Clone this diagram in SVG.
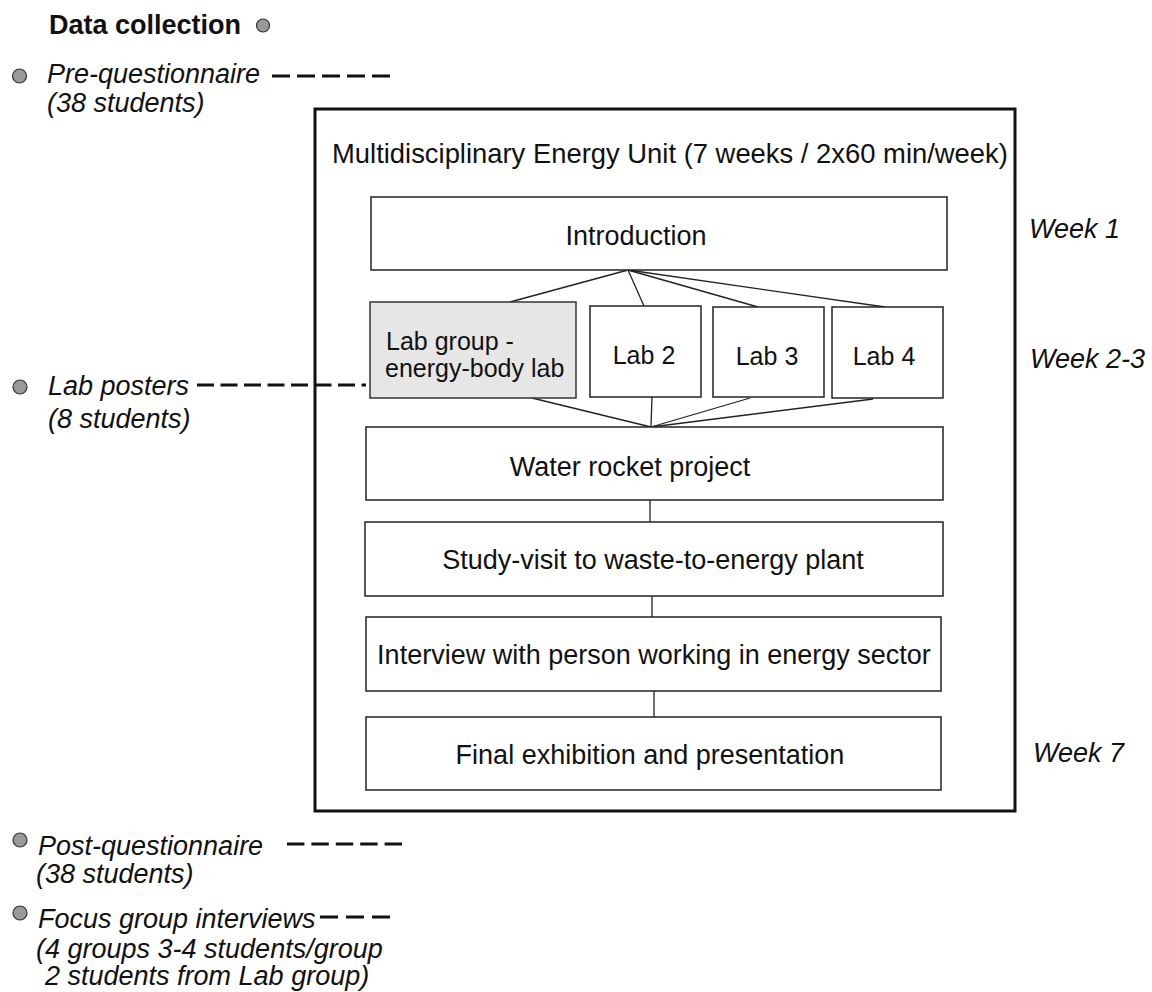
<svg xmlns="http://www.w3.org/2000/svg" width="1152" height="992" viewBox="0 0 1152 992">
<style>
text{font-family:"Liberation Sans",Arial,sans-serif;fill:#111;}
.box{fill:#fff;stroke:#222;stroke-width:1.5;}
.lab1{fill:#e6e6e6;stroke:#333;stroke-width:1.5;}
.frame{fill:none;stroke:#111;stroke-width:3;}
.t{font-size:27px;text-anchor:middle;}
.tl{font-size:25px;text-anchor:middle;}
.it{font-size:27px;font-style:italic;}
.conn{stroke:#222;stroke-width:1.3;fill:none;}
.dash{stroke:#111;stroke-width:3;fill:none;}
.dot{fill:#999;stroke:#333;stroke-width:1.2;}
</style>
<rect width="1152" height="992" fill="#fff"/>

<g id="legend">
<text x="49" y="34" style="font-size:27px;font-weight:bold">Data collection</text>
<circle class="dot" cx="263" cy="25.5" r="6.5"/>
</g>

<g id="pre-questionnaire">
<circle class="dot" cx="19.5" cy="76" r="7"/>
<text class="it" x="47" y="83">Pre-questionnaire</text>
<text class="it" x="47" y="112">(38 students)</text>
<line class="dash" x1="272" y1="76" x2="390" y2="76" stroke-dasharray="18 7"/>
</g>

<g id="lab-posters">
<circle class="dot" cx="20" cy="387" r="7"/>
<text class="it" x="48" y="395">Lab posters</text>
<text class="it" x="48" y="428">(8 students)</text>
</g>

<g id="post-questionnaire">
<circle class="dot" cx="20" cy="840" r="7"/>
<text class="it" x="38" y="855">Post-questionnaire</text>
<text class="it" x="36" y="883">(38 students)</text>
<line class="dash" x1="287" y1="844" x2="402" y2="844" stroke-dasharray="17.4 7"/>
</g>

<g id="focus-groups">
<circle class="dot" cx="20" cy="913" r="7"/>
<text class="it" x="38" y="928">Focus group interviews</text>
<text class="it" x="36" y="958">(4 groups 3-4 students/group</text>
<text class="it" x="45" y="985">2 students from Lab group)</text>
<line class="dash" x1="320" y1="917" x2="390" y2="917" stroke-dasharray="18 8"/>
</g>

<g id="unit-frame">
<rect class="frame" x="315" y="109" width="700" height="702"/>
<text x="332" y="163" style="font-size:27.4px">Multidisciplinary Energy Unit (7 weeks / 2x60 min/week)</text>
</g>

<g id="connectors">
<line class="conn" x1="628" y1="270" x2="510" y2="302"/>
<line class="conn" x1="628" y1="270" x2="644" y2="306"/>
<line class="conn" x1="628" y1="270" x2="758" y2="307"/>
<line class="conn" x1="628" y1="270" x2="885" y2="307"/>
<line class="conn" x1="532" y1="398" x2="651" y2="427"/>
<line class="conn" x1="652" y1="397" x2="651" y2="427"/>
<line class="conn" x1="750" y1="398" x2="651" y2="427"/>
<line class="conn" x1="873" y1="399" x2="651" y2="427"/>
<line class="conn" x1="650" y1="500" x2="650" y2="522"/>
<line class="conn" x1="652" y1="596" x2="652" y2="617"/>
<line class="conn" x1="654" y1="691" x2="654" y2="717"/>
<line class="dash" x1="197" y1="385" x2="366" y2="385" stroke-dasharray="17 6.5"/>
<line class="dash" x1="381" y1="385" x2="385" y2="385"/>
</g>

<g id="introduction">
<rect class="box" x="371" y="197" width="576" height="73"/>
<text class="t" x="636" y="245">Introduction</text>
</g>

<g id="lab-group">
<rect class="lab1" x="370" y="302" width="206" height="96"/>
<text x="386" y="350" style="font-size:25px">Lab group -</text>
<text x="385" y="377" style="font-size:25px">energy-body lab</text>
</g>

<g id="lab2">
<rect class="box" x="590" y="306" width="111" height="91"/>
<text class="tl" x="644" y="364">Lab 2</text>
</g>

<g id="lab3">
<rect class="box" x="713" y="307" width="111" height="90"/>
<text class="tl" x="767" y="365">Lab 3</text>
</g>

<g id="lab4">
<rect class="box" x="832" y="307" width="111" height="91"/>
<text class="tl" x="884" y="365">Lab 4</text>
</g>

<g id="water-rocket">
<rect class="box" x="366" y="427" width="577" height="73"/>
<text class="t" x="630" y="476">Water rocket project</text>
</g>

<g id="study-visit">
<rect class="box" x="365" y="522" width="578" height="74"/>
<text class="t" x="653" y="569">Study-visit to waste-to-energy plant</text>
</g>

<g id="interview">
<rect class="box" x="366" y="617" width="575" height="74"/>
<text class="t" x="654" y="664">Interview with person working in energy sector</text>
</g>

<g id="final">
<rect class="box" x="366" y="717" width="575" height="73"/>
<text class="t" x="650" y="764">Final exhibition and presentation</text>
</g>

<g id="weeks">
<text class="it" x="1029" y="238">Week 1</text>
<text class="it" x="1030" y="368">Week 2-3</text>
<text class="it" x="1033" y="762">Week 7</text>
</g>
</svg>
